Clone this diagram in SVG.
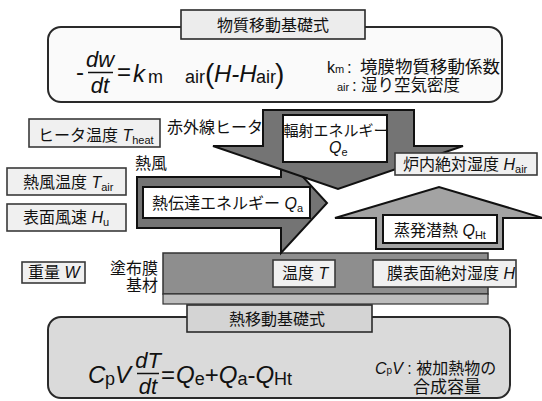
<svg xmlns="http://www.w3.org/2000/svg" width="542" height="401" viewBox="0 0 542 401">
<style>
text{font-family:'Liberation Sans','Noto Sans CJK JP',sans-serif;fill:#111}
.j{font-size:16px}
.it{font-style:italic}
.lbl{fill:#f0f0f0;stroke:#3a3a3a;stroke-width:1.6}
.wb{fill:#fff;stroke:#111;stroke-width:2}
.arD{fill:#747474;stroke:#111;stroke-width:2;stroke-linejoin:miter}
.arU{fill:#a3a3a3;stroke:#111;stroke-width:2}
.eq{font-size:24px}
.fr{font-size:22px;font-style:italic}
.sub{font-size:18px}
</style>
<rect width="542" height="401" fill="#fff"/>

<g id="mass-eq">
<rect x="48" y="27" width="454" height="75" rx="13" fill="#fafafa" stroke="#2a2a2a" stroke-width="2"/>
<rect x="181" y="10" width="184" height="29" fill="#ececec" stroke="#2a2a2a" stroke-width="1.6"/>
<text class="j" x="273" y="31" text-anchor="middle">物質移動基礎式</text>
<text class="eq" x="76" y="80">-</text>
<text class="fr" x="100" y="67" text-anchor="middle">dw</text>
<line x1="88" y1="72.5" x2="113" y2="72.5" stroke="#111" stroke-width="1.5"/>
<text class="fr" x="100" y="93" text-anchor="middle">dt</text>
<text class="eq" x="117" y="80">=</text>
<text class="eq it" x="133" y="82">k</text>
<text class="sub" x="148" y="83">m</text>
<text class="sub" x="185" y="83">air</text>
<text x="205" y="83" style="font-size:28px">(</text>
<text class="eq it" x="214" y="82">H-H</text>
<text class="sub" x="256" y="83">air</text>
<text x="275" y="83" style="font-size:28px">)</text>
<text x="327" y="73" style="font-size:16px">k<tspan style="font-size:11px">m</tspan></text>
<text x="347" y="73" style="font-size:17px">:</text>
<text x="360" y="73" style="font-size:17.5px">境膜物質移動係数</text>
<text x="337" y="91" style="font-size:11px">air</text>
<text x="352" y="91" style="font-size:17px">:</text>
<text x="361" y="91" style="font-size:16.5px">湿り空気密度</text>
</g>

<g id="heater-temp">
<rect class="lbl" x="29" y="119" width="131" height="28"/>
<text class="j" x="38" y="141">ヒータ温度 <tspan class="it">T</tspan><tspan style="font-size:11px" dy="3">heat</tspan></text>
</g>
<g id="ir-heater"><text class="j" x="167" y="133">赤外線ヒータ</text></g>
<g id="hot-air"><text class="j" x="135" y="169">熱風</text></g>
<g id="hot-air-temp">
<rect class="lbl" x="7" y="168" width="119" height="27"/>
<text class="j" x="23" y="188">熱風温度 <tspan class="it">T</tspan><tspan style="font-size:11px" dy="3">air</tspan></text>
</g>
<g id="surface-wind">
<rect class="lbl" x="7" y="204" width="119" height="27"/>
<text class="j" x="23" y="223">表面風速 <tspan class="it">H</tspan><tspan style="font-size:11px" dy="3">u</tspan></text>
</g>
<g id="weight">
<rect class="lbl" x="22" y="262" width="63" height="21"/>
<text class="j" x="28" y="278">重量 <tspan class="it">W</tspan></text>
</g>
<g id="film-labels">
<text class="j" x="158" y="274" text-anchor="end">塗布膜</text>
<text class="j" x="158" y="291" text-anchor="end">基材</text>
</g>

<g id="film">
<rect x="163" y="253" width="325" height="41" fill="#8e8e8e" stroke="#333" stroke-width="1.5"/>
<rect x="163" y="294" width="325" height="10" fill="#bdbdbd" stroke="#333" stroke-width="1.2"/>
</g>

<g id="connectors">
<g id="convection-arrow">
<polygon class="arD" points="137,177 281,177 281,153 327,203 281,253 281,228 137,228"/>
<rect class="wb" x="143" y="187" width="167" height="31"/>
<text class="j" x="152" y="209">熱伝達エネルギー <tspan class="it">Q</tspan><tspan style="font-size:11px" dy="3">a</tspan></text>
</g>
<g id="radiation-arrow">
<polygon class="arD" points="263,110 414,110 414,146 463,146 338,189 213,146 263,146"/>
<rect class="wb" x="283" y="115" width="104" height="47"/>
<text x="336" y="136" text-anchor="middle" style="font-size:15px">輻射エネルギー</text>
<text x="329" y="153" class="it" style="font-size:16px">Q<tspan style="font-size:11px;font-style:normal" dy="3">e</tspan></text>
</g>
<g id="evaporation-arrow">
<polygon class="arU" points="376,249 376,218 335,218 439,187 543,218 503,218 503,249"/>
<rect class="wb" x="383" y="215" width="114" height="28"/>
<text class="j" x="394" y="236">蒸発潜熱 <tspan class="it">Q</tspan><tspan style="font-size:11px" dy="3">Ht</tspan></text>
</g>
</g>

<g id="furnace-humidity">
<rect class="lbl" x="395" y="153" width="142" height="22" fill="#f4f4f4"/>
<text class="j" x="403" y="170">炉内絶対湿度 <tspan class="it">H</tspan><tspan style="font-size:11px" dy="3">air</tspan></text>
</g>
<g id="temp-T">
<rect class="lbl" x="273" y="260" width="62" height="27" fill="#f4f4f4"/>
<text class="j" x="282" y="279">温度 <tspan class="it">T</tspan></text>
</g>
<g id="surface-humidity">
<rect class="lbl" x="373" y="260" width="143" height="27" fill="#f4f4f4"/>
<text class="j" x="387" y="279">膜表面絶対湿度 <tspan class="it">H</tspan></text>
</g>

<g id="heat-eq">
<rect x="48" y="317" width="462" height="81" rx="13" fill="#dadada" stroke="#2a2a2a" stroke-width="2"/>
<rect x="187" y="305" width="185" height="27" fill="#d4d4d4" stroke="#2a2a2a" stroke-width="1.6"/>
<text class="j" x="277" y="325" text-anchor="middle">熱移動基礎式</text>
<text class="eq it" x="88" y="383">C</text>
<text class="sub" x="105" y="385">p</text>
<text class="eq it" x="115" y="383">V</text>
<text class="fr" x="148" y="368" text-anchor="middle">dT</text>
<line x1="137" y1="373.5" x2="159" y2="373.5" stroke="#111" stroke-width="1.5"/>
<text class="fr" x="148" y="394" text-anchor="middle">dt</text>
<text class="eq" x="161" y="383">=</text>
<text class="eq" x="176" y="383"><tspan class="it">Q</tspan><tspan class="sub" dy="2">e</tspan><tspan dy="-2">+</tspan><tspan class="it">Q</tspan><tspan class="sub" dy="2">a</tspan><tspan dy="-2">-</tspan><tspan class="it">Q</tspan><tspan class="sub" dy="2">Ht</tspan></text>
<text x="375" y="374" style="font-size:16px"><tspan class="it">C</tspan><tspan style="font-size:10px">p</tspan><tspan class="it">V</tspan> : 被加熱物の</text>
<text x="413" y="393" style="font-size:17px">合成容量</text>
</g>
</svg>
